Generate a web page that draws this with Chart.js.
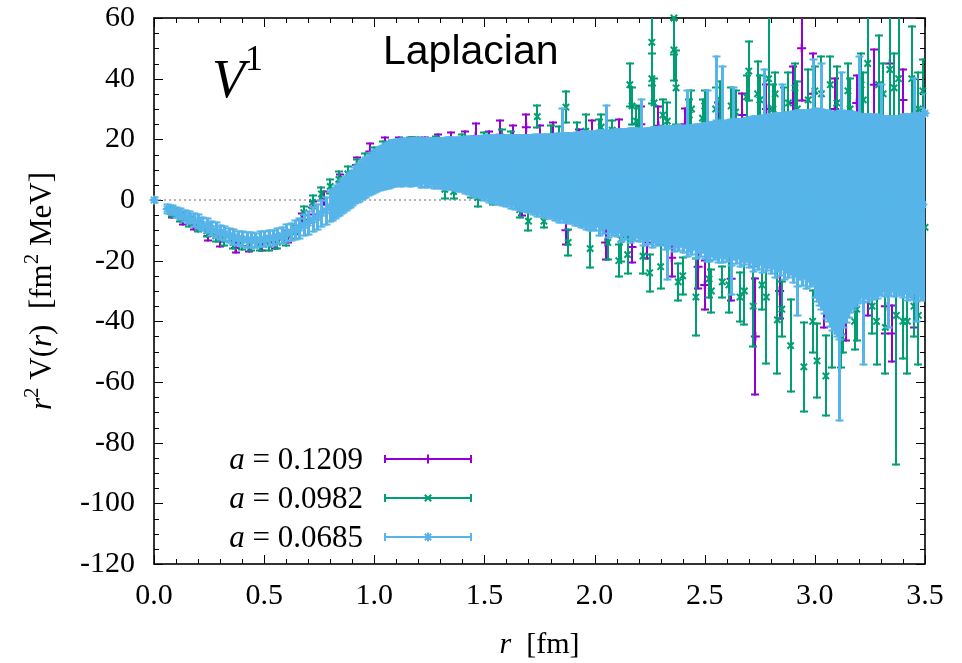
<!DOCTYPE html>
<html>
<head>
<meta charset="utf-8">
<script src="https://cdn.jsdelivr.net/npm/chart.js@4/dist/chart.umd.min.js"></script>
<style>
  body { margin: 0; background: #fff; }
  canvas { display: block; }
</style>
</head>
<body>
<canvas id="myChart" width="962" height="663"></canvas>
<script>
// series: a = 0.1209 (purple)
const pR = [0.08, 0.13, 0.18, 0.245, 0.30, 0.37, 0.43, 0.49, 0.55, 0.61, 0.67, 0.72, 0.77, 0.845, 0.92, 0.98,
  1.05, 1.11, 1.17, 1.23, 1.29, 1.35, 1.41, 1.46, 1.52, 1.57, 1.63, 1.67, 1.69, 1.75, 1.81, 1.87, 1.93, 1.99,
  2.05, 2.11, 2.17, 2.21, 2.24, 2.29, 2.35, 2.41, 2.47, 2.50, 2.56, 2.62, 2.67, 2.73, 2.78, 2.84, 2.90, 2.94, 2.99,
  3.04, 3.09, 3.14, 3.19, 3.24, 3.27, 3.32, 3.34, 3.35, 3.40, 3.45];
const pV = [-4.5, -6.6, -8.2, -11.9, -13.6, -15.8, -15.2, -15.0, -14.0, -12.0, -6.5, -2.5, 0.6, 6.0, 11.5, 16.0,
  17.0, 17.5, 17.8, 18.0, 18.5, 19.0, 19.5, 21.0, 19.0, 21.5, 20.5, -3.5, 24.0, 20.0, 20.5, -10.0, 20.0, 21.0,
  -14.0, 22.0, -15.5, 25.0, -14.0, 24.5, -19.0, 25.0, -22.0, -28.0, 26.0, -26.0, 28.0, -45.0, 30.0, -30.0, 32.0, 50.0, 35.0,
  -32.0, 30.0, -38.0, 32.0, -30.0, 38.0, -35.0, 45.0, -44.0, 33.0, -32.0];
const pE = [1.0, 1.2, 1.3, 1.4, 1.5, 1.5, 1.6, 1.6, 1.7, 1.8, 1.9, 2.0, 2.0, 2.2, 2.4, 2.5,
  3.4, 2.8, 2.5, 2.6, 2.8, 3.0, 3.0, 4.0, 3.5, 4.5, 4.0, 1.5, 4.0, 4.5, 5.0, 4.5, 3.0, 5.0,
  5.5, 4.5, 5.0, 5.7, 5.0, 6.2, 6.0, 5.0, 7.0, 8.0, 6.0, 7.0, 7.0, 19.0, 8.0, 9.0, 12.0, 17.0, 13.0,
  10.0, 10.0, 8.0, 9.0, 8.0, 11.5, 9.0, 21.0, 9.0, 10.0, 10.0];

// series: a = 0.0982 (green)
const gR = [0.08, 0.12, 0.16, 0.20, 0.24, 0.28, 0.32, 0.36, 0.40, 0.44, 0.48, 0.52, 0.56, 0.60, 0.64, 0.68,
  0.72, 0.76, 0.80, 0.84, 0.88, 0.92, 0.96, 1.00, 1.04, 1.08, 1.12, 1.16, 1.20, 1.24, 1.28, 1.32, 1.36, 1.40,
  1.44, 1.47, 1.50, 1.54, 1.58, 1.62, 1.66, 1.70, 1.74, 1.77, 1.80, 1.84, 1.87, 1.88, 1.92, 1.96, 1.98,
  2.02, 2.06, 2.08, 2.12, 2.15, 2.16, 2.17, 2.20, 2.22, 2.26, 2.26, 2.27, 2.30, 2.33, 2.36, 2.36, 2.37,
  2.40, 2.43, 2.46, 2.49, 2.52, 2.55, 2.58, 2.61, 2.64, 2.68, 2.70, 2.72, 2.74, 2.76, 2.78, 2.79,
  2.81, 2.83, 2.86, 2.88, 2.89, 2.92, 2.95, 2.97, 3.01, 3.03, 3.05, 3.08, 3.10, 3.13, 3.16, 3.19,
  3.22, 3.24, 3.26, 3.28, 3.29, 3.32, 3.34, 3.37, 3.38, 3.42, 3.44, 3.47, 3.47, 3.50,
  2.03, 2.11, 2.19, 2.25, 2.31, 2.38, 2.44, 2.50, 2.53, 2.57, 2.62, 2.66, 2.69, 2.75, 2.82,
  2.85, 2.91, 2.99, 3.00, 3.07, 3.12, 3.15, 3.18, 3.21, 3.31, 3.36, 3.40, 3.45, 3.49];
const gV = [-4.0, -5.6, -7.0, -8.6, -10.2, -11.8, -13.0, -14.0, -14.6, -14.9, -14.9, -14.6, -14.0, -12.9, -10.5, -4.2,
  -0.8, 2.0, 4.5, 6.8, 8.6, 10.8, 12.6, 14.3, 16.2, 16.8, 17.2, 17.5, 17.6, 17.2, 17.5, 3.5, 2.8, 17.8,
  3.0, 0.8, 18.0, 1.0, 19.2, 17.5, -3.2, -7.0, 27.5, -7.0, 19.5, 18.0, 30.6, -14.0, 20.0, 22.7, -16.0,
  20.5, -14.0, 23.0, -13.0, -18.0, 38.0, 31.0, 24.0, -18.5, 52.0, 40.0, 32.0, -22.0, 26.0, 60.0, 49.5, 37.0,
  -25.0, 28.0, -32.0, 27.0, -26.0, 30.0, -27.0, -28.0, 29.0, -30.0, 42.5, -35.0, 35.0, -28.0, -32.0, 40.0,
  30.0, -39.5, 28.0, 32.0, -48.0, 30.0, -55.0, 33.0, -53.0, 35.0, -58.0, -40.0, 32.0, -38.0, 30.0, -36.0,
  33.0, 45.0, -35.0, -40.0, 38.0, -42.0, 43.0, -38.0, 40.0, -40.0, 40.0, -38.0, 30.0, -9.0,
  24.0, -20.0, 26.0, -24.0, 28.0, -27.0, 30.0, 31.0, -30.0, 33.0, 31.0, -32.0, 34.0, 33.0, 35.0,
  -36.0, 37.0, -40.0, 36.0, 38.0, -45.0, 36.0, -40.0, 38.0, 35.0, 37.0, -40.0, -35.0, 36.0];
const gE = [1.2, 1.4, 1.5, 1.6, 1.6, 1.7, 1.7, 1.7, 1.7, 1.7, 1.7, 1.8, 1.8, 1.9, 2.0, 2.0,
  2.0, 2.0, 2.2, 2.3, 2.4, 2.5, 2.6, 2.7, 2.8, 2.8, 2.9, 2.8, 3.0, 3.0, 3.2, 3.0, 2.2, 3.6,
  2.0, 2.8, 4.2, 2.2, 3.8, 4.8, 2.5, 3.0, 3.5, 2.0, 5.0, 6.0, 5.0, 4.0, 5.5, 5.3, 6.0,
  6.0, 5.5, 3.0, 7.0, 6.0, 7.0, 6.0, 6.0, 5.5, 14.0, 8.0, 8.0, 7.0, 6.0, 12.0, 10.0, 12.0,
  6.0, 5.0, 12.5, 6.0, 6.0, 7.0, 5.0, 9.0, 7.0, 11.0, 9.5, 13.0, 10.5, 8.0, 21.7, 22.0,
  8.0, 17.5, 9.0, 10.0, 15.0, 9.0, 14.6, 10.0, 12.0, 12.0, 13.0, 15.0, 12.0, 12.0, 10.0, 10.0,
  9.0, 18.0, 9.0, 14.0, 16.0, 15.0, 20.0, 49.0, 25.0, 17.0, 17.0, 16.0, 12.0, 4.0,
  4.0, 5.0, 5.0, 6.0, 5.0, 6.0, 6.0, 5.0, 7.0, 6.0, 6.0, 8.0, 7.0, 8.0, 7.0,
  9.0, 8.0, 10.0, 8.0, 9.0, 10.0, 9.0, 9.0, 10.0, 10.0, 11.0, 12.0, 10.0, 10.0];

// series: a = 0.0685 (light blue), dense band first, then the stray points
const lbR = [0, 0.06, 0.08, 0.10, 0.12, 0.14, 0.16, 0.18, 0.20, 0.22, 0.24, 0.26, 0.28, 0.30, 0.32, 0.34, 0.36, 0.38,
  0.40, 0.42, 0.44, 0.46, 0.48, 0.50, 0.52, 0.54, 0.56, 0.58, 0.60, 0.62, 0.64, 0.66, 0.68, 0.70, 0.72, 0.74, 0.76, 0.78,
  0.80, 0.81, 0.82, 0.83, 0.84, 0.85, 0.86, 0.87, 0.88, 0.89,
  0.90, 0.91, 0.92, 0.93, 0.94, 0.95, 0.96, 0.97, 0.98, 0.99,
  1.00, 1.01, 1.02, 1.03, 1.04, 1.05, 1.06, 1.07, 1.08, 1.09,
  1.10, 1.11, 1.12, 1.13, 1.14, 1.15, 1.16, 1.17, 1.18, 1.19,
  1.20, 1.21, 1.22, 1.23, 1.24, 1.25, 1.26, 1.27, 1.28, 1.29,
  1.30, 1.31, 1.32, 1.33, 1.34, 1.35, 1.36, 1.37, 1.38, 1.39,
  1.40, 1.41, 1.42, 1.43, 1.44, 1.45, 1.46, 1.47, 1.48, 1.49,
  1.50, 1.51, 1.52, 1.53, 1.54, 1.55, 1.56, 1.57, 1.58, 1.59,
  1.60, 1.61, 1.62, 1.63, 1.64, 1.65, 1.66, 1.67, 1.68, 1.69,
  1.70, 1.71, 1.72, 1.73, 1.74, 1.75, 1.76, 1.77, 1.78, 1.79,
  1.80, 1.81, 1.82, 1.83, 1.84, 1.85, 1.86, 1.87, 1.88, 1.89,
  1.90, 1.91, 1.92, 1.93, 1.94, 1.95, 1.96, 1.97, 1.98, 1.99,
  2.00, 2.01, 2.02, 2.03, 2.04, 2.05, 2.06, 2.07, 2.08, 2.09,
  2.10, 2.11, 2.12, 2.13, 2.14, 2.15, 2.16, 2.17, 2.18, 2.19,
  2.20, 2.21, 2.22, 2.23, 2.24, 2.25, 2.26, 2.27, 2.28, 2.29,
  2.30, 2.31, 2.32, 2.33, 2.34, 2.35, 2.36, 2.37, 2.38, 2.39,
  2.40, 2.41, 2.42, 2.43, 2.44, 2.45, 2.46, 2.47, 2.48, 2.49,
  2.50, 2.51, 2.52, 2.53, 2.54, 2.55, 2.56, 2.57, 2.58, 2.59,
  2.60, 2.61, 2.62, 2.63, 2.64, 2.65, 2.66, 2.67, 2.68, 2.69,
  2.70, 2.71, 2.72, 2.73, 2.74, 2.75, 2.76, 2.77, 2.78, 2.79,
  2.80, 2.81, 2.82, 2.83, 2.84, 2.85, 2.86, 2.87, 2.88, 2.89,
  2.90, 2.91, 2.92, 2.93, 2.94, 2.95, 2.96, 2.97, 2.98, 2.99,
  3.00, 3.01, 3.02, 3.03, 3.04, 3.05, 3.06, 3.07, 3.08, 3.09,
  3.10, 3.11, 3.12, 3.13, 3.14, 3.15, 3.16, 3.17, 3.18, 3.19,
  3.20, 3.21, 3.22, 3.23, 3.24, 3.25, 3.26, 3.27, 3.28, 3.29,
  3.30, 3.31, 3.32, 3.33, 3.34, 3.35, 3.36, 3.37, 3.38, 3.39,
  3.40, 3.41, 3.42, 3.43, 3.44, 3.45, 3.46, 3.47, 3.48, 3.49, 3.50,
  1.85, 2.05, 2.21, 2.42, 2.51, 2.55, 2.58, 2.63, 2.77, 2.85, 2.99, 3.03, 3.11, 3.12, 3.20, 3.22, 3.30, 3.45,
  2.33, 2.62, 2.92, 3.33, 3.46];
const lbV = [0, -3.0, -3.4, -4.1, -4.5, -5.3, -5.8, -6.6, -7.1, -8.0, -8.5, -9.4, -9.9, -10.7, -11.1, -11.8, -12.1, -12.7,
  -12.8, -13.2, -13.1, -13.3, -13.0, -12.9, -12.5, -12.4, -11.9, -11.7, -11.0, -10.6, -9.8, -9.3, -8.3, -7.6, -6.5, -5.7, -4.4, -3.5,
  -2.2, -1.6, -1.0, -0.3, 0.2, 0.9, 1.5, 2.1, 2.8, 3.4,
  4.0, 4.7, 5.2, 5.8, 6.3, 6.9, 7.4, 7.9, 8.4, 8.9,
  9.3, 9.7, 10.1, 10.5, 10.8, 11.1, 11.4, 11.7, 11.9, 12.1,
  12.3, 12.6, 12.2, 12.7, 12.4, 12.8, 12.3, 12.6, 12.5, 12.7,
  12.5, 12.2, 12.8, 12.4, 12.1, 12.6, 12.3, 12.0, 12.5, 12.2,
  12.0, 12.4, 11.8, 12.2, 11.9, 12.3, 11.7, 12.0, 11.6, 12.1,
  11.7, 11.4, 11.9, 11.2, 11.5, 11.0, 11.3, 10.8, 11.1, 10.7,
  10.5, 10.8, 10.2, 10.6, 9.9, 10.4, 9.8, 10.2, 9.6, 10.0,
  9.5, 9.9, 9.2, 9.7, 9.0, 9.4, 8.8, 9.3, 8.7, 9.1,
  8.5, 8.9, 8.2, 8.7, 8.0, 8.5, 7.9, 8.3, 7.6, 8.1,
  7.7, 8.1, 7.4, 7.9, 7.2, 7.8, 7.1, 7.6, 7.0, 7.5,
  7.2, 6.7, 7.4, 6.9, 6.6, 7.1, 6.3, 6.8, 6.2, 6.6,
  6.2, 6.9, 5.6, 6.4, 5.9, 6.7, 5.3, 6.1, 5.6, 6.0,
  5.5, 6.2, 4.9, 5.8, 5.2, 6.0, 4.7, 5.5, 5.0, 5.7,
  4.7, 5.4, 4.2, 5.1, 4.5, 5.3, 4.0, 4.9, 4.4, 5.0,
  4.5, 5.1, 3.8, 4.7, 4.1, 4.9, 3.6, 4.4, 3.9, 4.6,
  3.5, 4.3, 3.0, 3.9, 3.3, 4.1, 2.8, 3.7, 3.2, 3.8,
  3.0, 3.8, 2.6, 3.5, 2.9, 3.7, 2.4, 3.3, 2.7, 3.4,
  3.0, 3.7, 2.5, 3.4, 2.8, 3.6, 2.3, 3.2, 2.7, 3.3,
  2.5, 3.4, 2.0, 3.1, 2.4, 3.2, 1.9, 2.6, 2.3, 3.0,
  2.0, 2.9, 1.5, 2.6, 1.8, 2.7, 1.3, 2.4, 1.6, 2.2,
  1.0, 2.0, 0.4, 1.6, 0.7, 1.8, 0.1, 1.3, 0.5, 1.0,
  -1.0, -1.8, -2.5, -3.0, -3.9, -4.8, -5.4, -6.3, -7.0, -7.6,
  -8.0, -8.3, -7.6, -6.4, -5.5, -4.9, -4.0, -3.6, -3.1, -2.8,
  -2.5, -1.9, -2.8, -2.1, -2.6, -1.8, -2.4, -1.9, -2.2, -1.7,
  -2.0, -1.4, -2.3, -1.6, -2.1, -1.3, -2.2, -1.5, -2.0, -1.6,
  -2.0, -1.4, -2.4, -1.7, -2.2, -1.3, -2.5, -1.6, -2.1, -1.5, 28.6,
  14.0, 12.0, 12.0, 14.0, 8.0, 22.0, 20.0, 14.0, 15.0, 16.0, 16.0, 6.0, -25.0, 4.0, 10.0, -20.0, 12.0, 14.0,
  -12.0, -15.0, -18.0, -20.0, -18.0];
const lbE = [0.6, 1.2, 1.3, 1.5, 1.6, 1.7, 1.8, 1.9, 2.0, 2.0, 2.1, 2.1, 2.2, 2.2, 2.2, 2.2, 2.3, 2.2,
  2.3, 2.2, 2.3, 2.2, 2.3, 2.2, 2.3, 2.3, 2.4, 2.5, 2.6, 2.7, 2.9, 3.1, 3.3, 3.5, 3.7, 3.9, 4.1, 4.3,
  4.7, 4.9, 4.8, 5.0, 5.1, 5.2, 5.3, 5.4, 5.5, 5.6,
  5.7, 5.8, 5.9, 6.0, 6.1, 6.2, 6.3, 6.4, 6.5, 6.6,
  6.7, 6.8, 6.9, 7.0, 7.1, 7.2, 7.3, 7.3, 7.4, 7.4,
  7.5, 7.2, 7.6, 7.3, 7.4, 7.1, 7.7, 7.4, 7.6, 7.3,
  7.5, 7.8, 7.2, 7.7, 7.9, 7.4, 7.8, 8.1, 7.6, 8.0,
  8.0, 7.8, 8.3, 8.1, 8.4, 8.0, 8.5, 8.3, 8.6, 8.4,
  8.7, 9.0, 8.8, 9.3, 9.2, 9.6, 9.5, 9.9, 9.8, 10.2,
  10.5, 10.2, 10.8, 10.6, 11.0, 10.7, 11.2, 10.9, 11.3, 11.1,
  11.5, 11.2, 11.9, 11.5, 12.1, 11.8, 12.2, 11.9, 12.4, 12.1,
  12.5, 12.2, 12.9, 12.6, 13.2, 12.8, 13.3, 13.0, 13.6, 13.3,
  13.7, 13.4, 14.1, 13.8, 14.3, 14.0, 14.5, 14.1, 14.6, 14.4,
  14.7, 15.1, 14.8, 15.3, 15.5, 15.2, 15.8, 15.5, 16.0, 15.8,
  16.2, 15.5, 17.0, 16.4, 16.9, 16.0, 17.5, 16.8, 17.3, 17.0,
  17.5, 16.8, 18.3, 17.4, 18.0, 17.2, 18.6, 17.9, 18.3, 17.8,
  18.2, 17.6, 19.0, 18.3, 18.9, 18.1, 19.4, 18.8, 19.2, 18.9,
  19.5, 18.9, 20.1, 19.5, 20.0, 19.3, 20.5, 19.9, 20.3, 19.8,
  20.5, 19.8, 21.4, 20.6, 21.2, 20.3, 21.8, 21.0, 21.6, 21.1,
  22.0, 21.3, 22.7, 21.9, 22.5, 22.4, 23.0, 22.2, 23.1, 22.4,
  23.0, 22.3, 23.8, 22.9, 23.6, 22.7, 24.1, 23.3, 23.9, 23.4,
  24.5, 23.7, 25.3, 24.4, 25.1, 24.2, 25.7, 24.8, 25.4, 25.0,
  26.0, 25.2, 26.8, 25.9, 26.6, 25.6, 27.2, 26.3, 27.0, 26.5,
  28.0, 27.1, 28.9, 27.8, 28.6, 27.5, 29.2, 28.1, 29.0, 28.6,
  31.0, 31.6, 32.2, 32.8, 33.4, 34.0, 34.5, 35.2, 35.8, 36.4,
  37.0, 37.4, 36.8, 35.5, 34.6, 33.8, 33.0, 32.4, 31.8, 31.3,
  30.5, 30.0, 30.9, 30.2, 30.6, 29.8, 30.4, 29.6, 30.1, 29.5,
  29.0, 28.6, 29.5, 28.8, 29.3, 28.5, 29.6, 28.9, 29.4, 29.1,
  30.0, 29.4, 30.5, 29.8, 30.3, 29.5, 30.8, 30.1, 30.6, 31.5, 6.0,
  16.0, 19.0, 21.0, 22.0, 28.0, 25.0, 24.0, 23.0, 28.0, 22.0, 30.0, 39.0, 47.5, 38.0, 37.0, 34.0, 26.0, 26.0,
  14.0, 16.0, 20.0, 22.0, 22.0];

const seriesLabels = ['0.1209', '0.0982', '0.0685'];
const seriesColors = ['#9400D3', '#009E73', '#56B4E9'];
const seriesPoints = ['cross', 'crossRot', 'star'];
const seriesBarWidth = [2, 2, 3];
const xTicks = [0, 0.5, 1.0, 1.5, 2.0, 2.5, 3.0, 3.5];
const yTicks = [-120, -100, -80, -60, -40, -20, 0, 20, 40, 60];

const SERIF = '"Liberation Serif", "Times New Roman", serif';

function toPoints(rs, vs) {
    return rs.map((r, i) => ({ x: r, y: vs[i] }));
}

// draws text made of several pieces (italic, superscript...) one after the other
function drawRich(ctx, parts, x, y, align) {
    let w = 0;
    parts.forEach(p => { ctx.font = p[1]; w += ctx.measureText(p[0]).width; });
    let cx = align === 'right' ? x - w : (align === 'center' ? x - w / 2 : x);
    parts.forEach(p => {
        ctx.font = p[1];
        ctx.fillText(p[0], cx, y + (p[2] || 0));
        cx += ctx.measureText(p[0]).width;
    });
}

function drawMarker(ctx, style, x, y, r) {
    ctx.beginPath();
    if (style === 'cross' || style === 'star') {
        ctx.moveTo(x - r, y); ctx.lineTo(x + r, y);
        ctx.moveTo(x, y - r); ctx.lineTo(x, y + r);
    }
    if (style === 'crossRot' || style === 'star') {
        const d = r * 0.7071;
        ctx.moveTo(x - d, y - d); ctx.lineTo(x + d, y + d);
        ctx.moveTo(x - d, y + d); ctx.lineTo(x + d, y - d);
    }
    ctx.stroke();
}

// error bars, drawn just before the points of each dataset
const errorBars = {
    id: 'errorBars',
    beforeDatasetDraw(chart, args) {
        const ds = chart.data.datasets[args.index];
        if (!ds.errs) return;
        const { ctx, chartArea: a, scales: { x, y } } = chart;
        const w = ds.barWidth || 2;
        ctx.save();
        ctx.beginPath();
        ctx.rect(a.left, a.top, a.right - a.left, a.bottom - a.top);
        ctx.clip();
        ctx.strokeStyle = ds.borderColor;
        ctx.lineCap = 'butt';
        ds.data.forEach((p, i) => {
            // snap to whole pixels so that neighbouring bars join into a solid band
            const px = Math.round(x.getPixelForValue(p.x)) + (w % 2 ? 0.5 : 0);
            const lo = Math.round(y.getPixelForValue(p.y - ds.errs[i])) + 0.5;
            const hi = Math.round(y.getPixelForValue(p.y + ds.errs[i])) - 0.5;
            ctx.lineWidth = w;
            ctx.beginPath();
            ctx.moveTo(px, lo + 1); ctx.lineTo(px, hi - 1);
            ctx.stroke();
            ctx.lineWidth = 2;
            ctx.beginPath();
            ctx.moveTo(px - 4, lo); ctx.lineTo(px + 4, lo);
            ctx.moveTo(px - 4, hi); ctx.lineTo(px + 4, hi);
            ctx.stroke();
        });
        ctx.restore();
    }
};

// gnuplot style border with inward ticks on all sides
const frame = {
    id: 'frame',
    beforeDatasetsDraw(chart) {
        const { ctx, chartArea: a, scales: { x, y } } = chart;
        ctx.save();
        ctx.strokeStyle = '#000';
        ctx.lineWidth = 1;
        ctx.beginPath();
        for (let v = -120; v <= 60.001; v += 5) {
            const py = Math.round(y.getPixelForValue(v)) + 0.5;
            const len = (Math.round(v) % 20 === 0) ? 9 : 5;
            ctx.moveTo(a.left, py); ctx.lineTo(a.left + len, py);
            ctx.moveTo(a.right, py); ctx.lineTo(a.right - len, py);
        }
        for (let i = 0; i <= 35; i++) {
            const px = Math.round(x.getPixelForValue(i / 10)) + 0.5;
            const len = (i % 5 === 0) ? 9 : 5;
            ctx.moveTo(px, a.bottom); ctx.lineTo(px, a.bottom - len);
            ctx.moveTo(px, a.top); ctx.lineTo(px, a.top + len);
        }
        ctx.stroke();
        ctx.lineWidth = 1.6;
        ctx.strokeRect(a.left, a.top, a.right - a.left, a.bottom - a.top);
        ctx.restore();
    }
};

// titles, labels and key
const texts = {
    id: 'texts',
    afterDraw(chart) {
        const { ctx, chartArea: a } = chart;
        ctx.save();
        ctx.fillStyle = '#000';
        ctx.textAlign = 'left';
        ctx.textBaseline = 'alphabetic';

        drawRich(ctx, [['V', 'italic 54px ' + SERIF], ['1', '36px ' + SERIF, -27]], 212, 97, 'left');
        ctx.font = '41px "Liberation Sans", Arial, sans-serif';
        ctx.fillText('Laplacian', 383, 64);

        // x title
        drawRich(ctx, [['r', 'italic 30px ' + SERIF], ['  [fm]', '30px ' + SERIF]],
            (a.left + a.right) / 2, 653, 'center');

        // y title, rotated
        ctx.save();
        ctx.translate(51, (a.top + a.bottom) / 2);
        ctx.rotate(-Math.PI / 2);
        drawRich(ctx, [
            ['r', 'italic 31px ' + SERIF], ['2', '21px ' + SERIF, -13],
            [' V(', '31px ' + SERIF], ['r', 'italic 31px ' + SERIF], [')  [fm', '31px ' + SERIF],
            ['2', '21px ' + SERIF, -13], [' MeV]', '31px ' + SERIF]
        ], 0, 0, 'center');
        ctx.restore();

        // key
        const rows = [459, 498, 537];
        seriesLabels.forEach((lab, i) => {
            const yy = rows[i];
            drawRich(ctx, [['a', 'italic 31px ' + SERIF], [' = ' + lab, '31px ' + SERIF]], 363, yy + 10, 'right');
            ctx.strokeStyle = seriesColors[i];
            ctx.lineWidth = 2;
            ctx.beginPath();
            ctx.moveTo(385, yy); ctx.lineTo(471, yy);
            ctx.moveTo(385, yy - 4); ctx.lineTo(385, yy + 4);
            ctx.moveTo(471, yy - 4); ctx.lineTo(471, yy + 4);
            ctx.stroke();
            drawMarker(ctx, seriesPoints[i], 428, yy, 4.5);
        });
        ctx.restore();
    }
};

const ctx = document.getElementById('myChart');

const allR = [pR, gR, lbR];
const allV = [pV, gV, lbV];
const allE = [pE, gE, lbE];

const datasets = seriesLabels.map((lab, i) => ({
    label: 'a = ' + lab,
    data: toPoints(allR[i], allV[i]),
    errs: allE[i],
    barWidth: seriesBarWidth[i],
    borderColor: seriesColors[i],
    backgroundColor: seriesColors[i],
    pointStyle: seriesPoints[i],
    pointRadius: 4.5,
    pointBorderWidth: 2,
    pointHoverRadius: 4.5,
    clip: false,
    order: 3 - i
}));

// dotted zero line
datasets.push({
    label: 'zero',
    data: [{ x: 0, y: 0 }, { x: 3.5, y: 0 }],
    showLine: true,
    borderColor: '#666',
    borderWidth: 1,
    borderDash: [2, 3],
    pointRadius: 0,
    order: 10
});

new Chart(ctx, {
    type: 'scatter',
    data: { datasets: datasets },
    options: {
        responsive: false,
        animation: false,
        devicePixelRatio: 1,
        layout: { padding: { left: 0, right: 37, top: 18, bottom: 0 } },
        plugins: {
            legend: { display: false },
            tooltip: { enabled: false }
        },
        events: [],
        scales: {
            x: {
                type: 'linear',
                min: 0,
                max: 3.5,
                afterFit: s => { s.height = 99; s.paddingLeft = 0; s.paddingRight = 0; },
                afterBuildTicks: s => { s.ticks = xTicks.map(v => ({ value: v })); },
                grid: { display: false, drawTicks: false },
                border: { display: false },
                ticks: {
                    autoSkip: false,
                    maxRotation: 0,
                    padding: 14,
                    color: '#000',
                    font: { family: SERIF, size: 30 },
                    callback: v => v.toFixed(1)
                }
            },
            y: {
                type: 'linear',
                min: -120,
                max: 60,
                afterFit: s => { s.width = 154; s.paddingTop = 0; s.paddingBottom = 0; },
                afterBuildTicks: s => { s.ticks = yTicks.map(v => ({ value: v })); },
                grid: { display: false, drawTicks: false },
                border: { display: false },
                ticks: {
                    autoSkip: false,
                    padding: 19,
                    color: '#000',
                    font: { family: SERIF, size: 30 },
                    callback: v => String(v)
                }
            }
        }
    },
    plugins: [errorBars, frame, texts]
});
</script>
</body>
</html>
